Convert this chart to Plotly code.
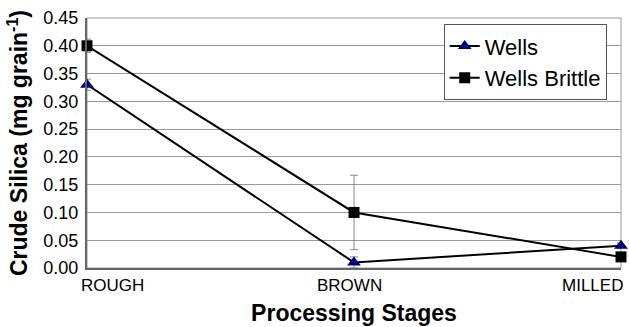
import plotly.graph_objects as go

stages = ["ROUGH", "BROWN", "MILLED"]
wells = [0.33, 0.01, 0.04]
wells_err = [0.01, 0.01, 0.005]
brittle = [0.40, 0.10, 0.02]
brittle_err = [0.012, 0.067, 0.005]
y_ticks = [0.00, 0.05, 0.10, 0.15, 0.20, 0.25, 0.30, 0.35, 0.40, 0.45]

xpos = list(range(len(stages)))

fig = go.Figure()
fig.add_trace(go.Scatter(
    x=xpos, y=wells, name="Wells", mode="lines+markers",
    line=dict(color="black", width=2),
    marker=dict(symbol="triangle-up", size=12, color="#000080"),
    error_y=dict(type="data", array=wells_err, color="#888888", thickness=1, width=4),
    cliponaxis=False,
))
fig.add_trace(go.Scatter(
    x=xpos, y=brittle, name="Wells Brittle", mode="lines+markers",
    line=dict(color="black", width=2),
    marker=dict(symbol="square", size=11, color="black"),
    error_y=dict(type="data", array=brittle_err, color="#888888", thickness=1, width=4),
    cliponaxis=False,
))

# category labels placed at the category positions, nudged inward like the original
anchors = ["left", "center", "right"]
shifts = [-8, -5, 4]
annotations = [
    dict(x=xv, y=0, xref="x", yref="paper", text=lab, showarrow=False,
         xanchor=an, yanchor="top", xshift=sh, yshift=-6, font=dict(size=17))
    for xv, lab, an, sh in zip(xpos, stages, anchors, shifts)
]

fig.update_layout(
    width=629, height=327,
    margin=dict(l=87, r=8, t=18, b=59),
    paper_bgcolor="white", plot_bgcolor="white",
    font=dict(family="Liberation Sans, Arial, sans-serif", color="black"),
    showlegend=True,
    legend=dict(
        x=0.668, y=0.975, xanchor="left", yanchor="top",
        bgcolor="white", bordercolor="#555555", borderwidth=1,
        font=dict(size=22), tracegroupgap=0, itemwidth=30,
    ),
    xaxis=dict(
        range=[0, 2], tickmode="array", tickvals=xpos, ticktext=stages,
        showticklabels=False,
        showgrid=False, zeroline=False, showline=True, linecolor="#666666", linewidth=2,
        ticks="",
        title=dict(text="<b>Processing Stages</b>", font=dict(size=23), standoff=36),
    ),
    yaxis=dict(
        range=[0, 0.45], tickmode="array", tickvals=y_ticks,
        ticktext=[f"{v:.2f}" for v in y_ticks],
        showgrid=True, gridcolor="#999999", gridwidth=1,
        zeroline=False, showline=True, linecolor="#666666", linewidth=2,
        ticks="", tickfont=dict(size=18), ticklabelstandoff=3,
        title=dict(text="<b>Crude Silica (mg grain<sup>-1</sup>)</b>", font=dict(size=23), standoff=9),
    ),
    annotations=annotations,
    shapes=[dict(type="rect", xref="paper", yref="paper", x0=0, x1=1, y0=0, y1=1,
                 line=dict(color="#999999", width=1), layer="below")],
)

fig.write_html("out.html", config={"displayModeBar": False},
               post_script="document.body.style.margin='0';")
